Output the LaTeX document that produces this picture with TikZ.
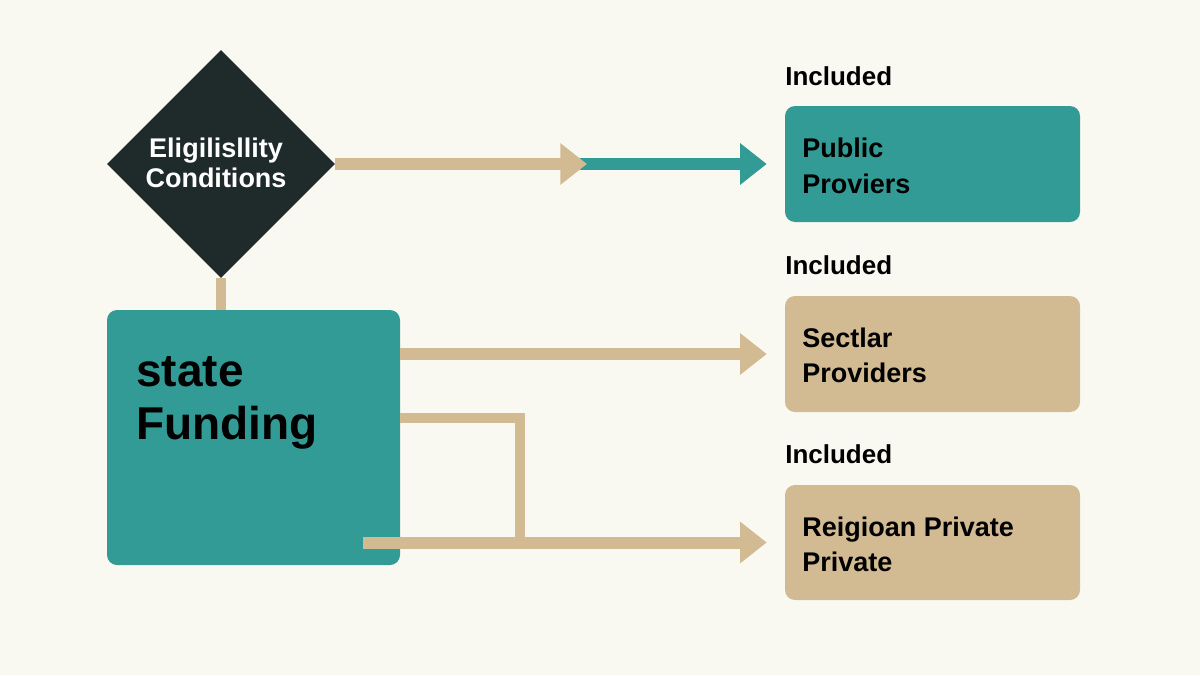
\documentclass[tikz,border=0pt]{standalone}
\usepackage{fontspec}
\setmainfont{Liberation Sans}
\usetikzlibrary{shapes.geometric,arrows.meta}
\definecolor{bgc}{HTML}{FAF9F1}
\definecolor{tealc}{HTML}{339B95}
\definecolor{tanc}{HTML}{D2BA92}
\definecolor{darkc}{HTML}{1F2A2B}
\begin{document}
\begin{tikzpicture}[x=0.75pt,y=-0.75pt,
  provbox/.style={rectangle, rounded corners=7.5pt, inner sep=0, minimum width=221.25pt, minimum height=87pt},
  lbl/.style={anchor=base west, inner sep=0, font=\fontsize{20.25pt}{24pt}\selectfont\bfseries, text=black},
  inc/.style={anchor=base west, inner sep=0, font=\fontsize{19.5pt}{24pt}\selectfont\bfseries, text=black},
  bigl/.style={anchor=base west, inner sep=0, font=\fontsize{34.5pt}{40pt}\selectfont\bfseries, text=black},
  diatxt/.style={anchor=base, inner sep=0, font=\fontsize{20.25pt}{24pt}\selectfont\bfseries, text=white},
  tanline/.style={draw=tanc, line width=9pt},
  tanarrow/.style={draw=tanc, line width=9pt, -{Triangle[length=20pt,width=30pt]}},
  tealarrow/.style={draw=tealc, line width=9pt, -{Triangle[length=20pt,width=30pt]}}
]
\fill[bgc] (0,0) rectangle (1200,675);
\useasboundingbox (0,0) rectangle (1200,675);

% nodes
\node[diamond, fill=darkc, inner sep=0, minimum width=171pt, minimum height=171pt] (elig) at (221,164) {};
\node[rectangle, rounded corners=7.5pt, fill=tealc, inner sep=0, minimum width=219.75pt, minimum height=191.25pt] (state) at (253.5,437.5) {};
\node[provbox, fill=tealc] (public) at (932.5,164) {};
\node[provbox, fill=tanc] (sect) at (932.5,354) {};
\node[provbox, fill=tanc, minimum height=86.25pt] (relig) at (932.5,542.5) {};

% coordinates for connectors
\coordinate (mid) at (587,164);
\coordinate (midt) at (580,164);
\coordinate (e1) at (400,418);
\coordinate (e2) at (520,418);
\coordinate (e3) at (520,542.5);
\coordinate (s3) at (363,542.5);

% connectors
\draw[tanline, line width=7.5pt] (elig.south) -- (elig.south |- state.north);
\draw[tealarrow, shorten >=13.5pt] (midt) -- (public.west);
\draw[tanarrow] (elig.east) -- (mid);
\draw[tanarrow, shorten >=13.5pt] (state.east |- sect.west) -- (sect.west);
\draw[tanline, line width=7.5pt] (e1) -- (e2) -- (e3);
\draw[tanarrow, shorten >=13.5pt] (s3) -- (relig.west);

% texts
\node[diatxt] (d1) at (216,157) {Eligilisllity};
\node[diatxt] (d2) at (216,187) {Conditions};
\node[bigl] (st1) at (136,386) {state};
\node[bigl] (st2) at (136,439) {Funding};
\node[inc] (i1) at (785,85) {Included};
\node[inc] (i2) at (785,274) {Included};
\node[inc] (i3) at (785,463) {Included};
\node[lbl] (p1) at (802,157) {Public};
\node[lbl] (p2) at (802,193) {Proviers};
\node[lbl] (q1) at (802,347) {Sectlar};
\node[lbl] (q2) at (802,382) {Providers};
\node[lbl] (r1) at (802,536) {Reigioan Private};
\node[lbl] (r2) at (802,571) {Private};
\end{tikzpicture}
\end{document}
